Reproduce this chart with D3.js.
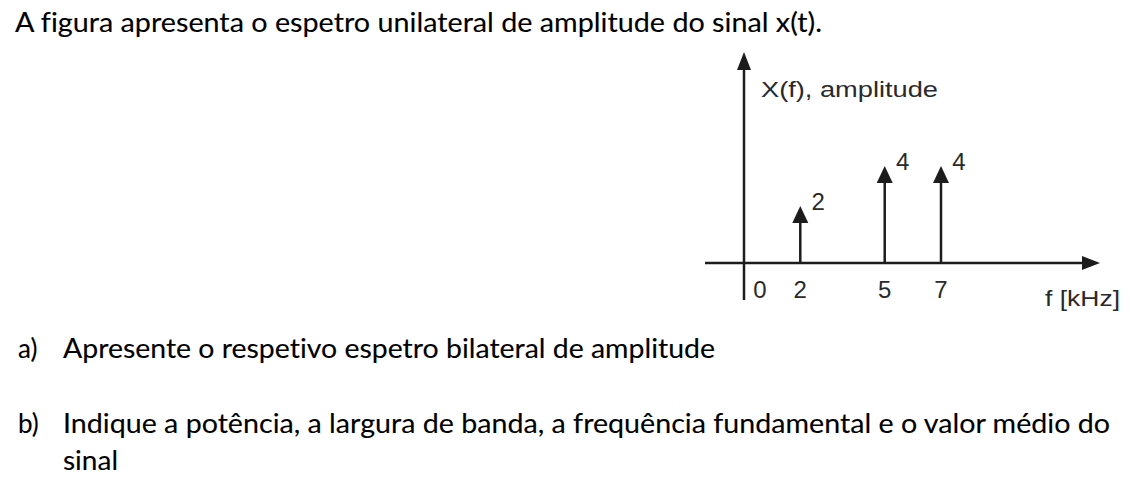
<!DOCTYPE html>
<html>
<head>
<meta charset="utf-8">
<script src="https://cdn.jsdelivr.net/npm/d3@7"></script>
<style>
  html, body { margin: 0; padding: 0; background: #fff; }
  svg { display: block; }
  text { font-variant-ligatures: none; font-feature-settings: "liga" 0, "clig" 0; }
</style>
</head>
<body>
<div id="chart"></div>
<script>
// ---- data ----
const freqs = [2, 5, 7];          // kHz
const amps = [2, 4, 4];           // amplitude
const xTickValues = [0, 2, 5, 7];
const xTickLabels = ["0", "2", "5", "7"];
const yAxisTitle = "X(f), amplitude";
const xAxisTitle = "f [kHz]";
const introText = "A figura apresenta o espetro unilateral de amplitude do sinal x(t).";
const questionMarkers = ["a)", "b)"];
const questionLines = [
  "Apresente o respetivo espetro bilateral de amplitude",
  "Indique a potência, a largura de banda, a frequência fundamental e o valor médio do",
  "sinal"
];

const W = 1146, H = 502;
const svg = d3.select("#chart").append("svg")
  .attr("width", W).attr("height", H)
  .style("background", "#fff");

const bodyFont = "Lato, 'Open Sans', sans-serif";
const chartFont = "'Liberation Sans', Arial, sans-serif";
const ink = "#1c1c1c";

function bodyText(sel) {
  return sel.attr("font-family", bodyFont).attr("font-size", 26)
    .attr("fill", "#000").attr("stroke", "#000").attr("stroke-width", 0.12);
}

// ---- text ----
bodyText(svg.append("text"))
  .attr("x", 15).attr("y", 32)
  .attr("textLength", 807).attr("lengthAdjust", "spacingAndGlyphs")
  .text(introText);

const qRows = [
  { marker: questionMarkers[0], text: questionLines[0], y: 358, w: 652 },
  { marker: questionMarkers[1], text: questionLines[1], y: 433, w: 1047 },
  { marker: null, text: questionLines[2], y: 470, w: 55 }
];
qRows.forEach(r => {
  if (r.marker) {
    bodyText(svg.append("text"))
      .attr("x", 18).attr("y", r.y)
      .text(r.marker);
  }
  bodyText(svg.append("text"))
    .attr("x", 63).attr("y", r.y)
    .attr("textLength", r.w).attr("lengthAdjust", "spacingAndGlyphs")
    .text(r.text);
});

// ---- chart ----
const axisY = 263;          // y of the frequency axis
const x = d3.scaleLinear().domain([0, 7]).range([744, 941]);
const y = d3.scaleLinear().domain([0, 4]).range([246, 166]);

const g = svg.append("g");

// frequency axis with arrow
const xAxisStart = 705, xAxisEnd = 1100;
g.append("line")
  .attr("x1", xAxisStart).attr("x2", xAxisEnd - 10)
  .attr("y1", axisY).attr("y2", axisY)
  .attr("stroke", ink).attr("stroke-width", 2.5);
g.append("path")
  .attr("d", `M${xAxisEnd},${axisY} L${xAxisEnd - 18},${axisY - 7} L${xAxisEnd - 18},${axisY + 7} Z`)
  .attr("fill", ink);

// amplitude axis with arrow
const yAxisX = x(0), yAxisTop = 52, yAxisBottom = 300;
g.append("line")
  .attr("x1", yAxisX).attr("x2", yAxisX)
  .attr("y1", yAxisBottom).attr("y2", yAxisTop + 10)
  .attr("stroke", ink).attr("stroke-width", 2.5);
g.append("path")
  .attr("d", `M${yAxisX},${yAxisTop} L${yAxisX - 7},${yAxisTop + 18} L${yAxisX + 7},${yAxisTop + 18} Z`)
  .attr("fill", ink);

// axis titles
g.append("text")
  .attr("x", 761).attr("y", 97)
  .attr("font-family", chartFont).attr("font-size", 22)
  .attr("textLength", 177).attr("lengthAdjust", "spacingAndGlyphs")
  .attr("fill", "#2a2a2a")
  .text(yAxisTitle);
g.append("text")
  .attr("x", 1045).attr("y", 306)
  .attr("font-family", chartFont).attr("font-size", 22)
  .attr("textLength", 75).attr("lengthAdjust", "spacingAndGlyphs")
  .attr("fill", "#2a2a2a")
  .text(xAxisTitle);

// tick labels
g.selectAll("text.tick")
  .data(xTickValues)
  .enter().append("text")
  .attr("class", "tick")
  .attr("x", (d, i) => d === 0 ? x(d) + 16 : x(d))
  .attr("y", 298)
  .attr("text-anchor", "middle")
  .attr("font-family", chartFont).attr("font-size", 24)
  .attr("fill", "#2a2a2a")
  .text((d, i) => xTickLabels[i]);

// spectral lines (stems with arrowheads)
const lines = freqs.map((f, i) => ({ f, a: amps[i] }));
const stems = g.selectAll("g.stem").data(lines).enter().append("g").attr("class", "stem");
stems.append("line")
  .attr("x1", d => x(d.f)).attr("x2", d => x(d.f))
  .attr("y1", axisY).attr("y2", d => y(d.a) + 10)
  .attr("stroke", ink).attr("stroke-width", 2.5);
stems.append("path")
  .attr("d", d => {
    const cx = x(d.f), ty = y(d.a);
    return `M${cx},${ty} L${cx - 8},${ty + 17} L${cx + 8},${ty + 17} Z`;
  })
  .attr("fill", ink);
stems.append("text")
  .attr("x", d => x(d.f) + 18)
  .attr("y", d => y(d.a) + 4)
  .attr("text-anchor", "middle")
  .attr("font-family", chartFont).attr("font-size", 24)
  .attr("fill", "#2a2a2a")
  .text(d => d.a);
</script>
</body>
</html>
